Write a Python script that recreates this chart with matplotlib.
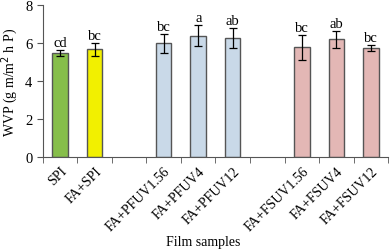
import numpy as np
import matplotlib.pyplot as plt

plt.rcParams['font.family'] = ['Liberation Serif', 'DejaVu Serif']

samples = ['SPI', 'FA+SPI', '', 'FA+PFUV1.56', 'FA+PFUV4', 'FA+PFUV12',
           '', 'FA+FSUV1.56', 'FA+FSUV4', 'FA+FSUV12']
wvp = [5.5, 5.68, np.nan, 6.0, 6.4, 6.27, np.nan, 5.78, 6.22, 5.75]
err = [0.17, 0.35, np.nan, 0.5, 0.55, 0.52, np.nan, 0.68, 0.45, 0.18]
letters = ['cd', 'bc', '', 'bc', 'a', 'ab', '', 'bc', 'ab', 'bc']
colors = ['#86be4a', '#f2f000', 'none', '#c9d9e8', '#c9d9e8', '#c9d9e8',
          'none', '#e3b7b5', '#e3b7b5', '#e3b7b5']

fig = plt.figure(figsize=(3.9, 2.51), dpi=100)
ax = fig.add_axes([0.11, 0.37, 0.885, 0.605])

x = np.arange(len(samples))
for i in x:
    if np.isnan(wvp[i]):
        continue
    ax.bar(i, wvp[i], width=0.45, color=colors[i], edgecolor='#555555', linewidth=1.0, zorder=2)
    ax.errorbar(i, wvp[i], yerr=err[i], fmt='none', ecolor='black', elinewidth=0.9,
                capsize=3, capthick=0.9, zorder=3)
    ax.text(i, wvp[i] + err[i] + 0.05, letters[i], ha='center', va='bottom', fontsize=10.5)

ax.set_xlim(-0.5, len(samples) - 0.5)
ax.set_ylim(0, 8)
ax.set_yticks([0, 2, 4, 6, 8])
ax.set_xticks(x)
ax.set_xticklabels(samples, rotation=45, ha='right', rotation_mode='anchor', fontsize=10)
ax.set_xticks(np.arange(-0.5, len(samples)), minor=True)
ax.tick_params(axis='x', which='major', length=0, pad=5)
ax.tick_params(axis='x', which='minor', length=4, color='#555555')
ax.tick_params(axis='y', labelsize=10.5, length=4, color='#555555')
for s in ['top', 'right']:
    ax.spines[s].set_visible(False)
for s in ['left', 'bottom']:
    ax.spines[s].set_color('#555555')

ax.set_ylabel('WVP (g m/m$^2$ h P)', fontsize=10)
fig.text(0.52, 0.02, 'Film samples', ha='center', fontsize=10)

fig.savefig('out.png', dpi=100)
